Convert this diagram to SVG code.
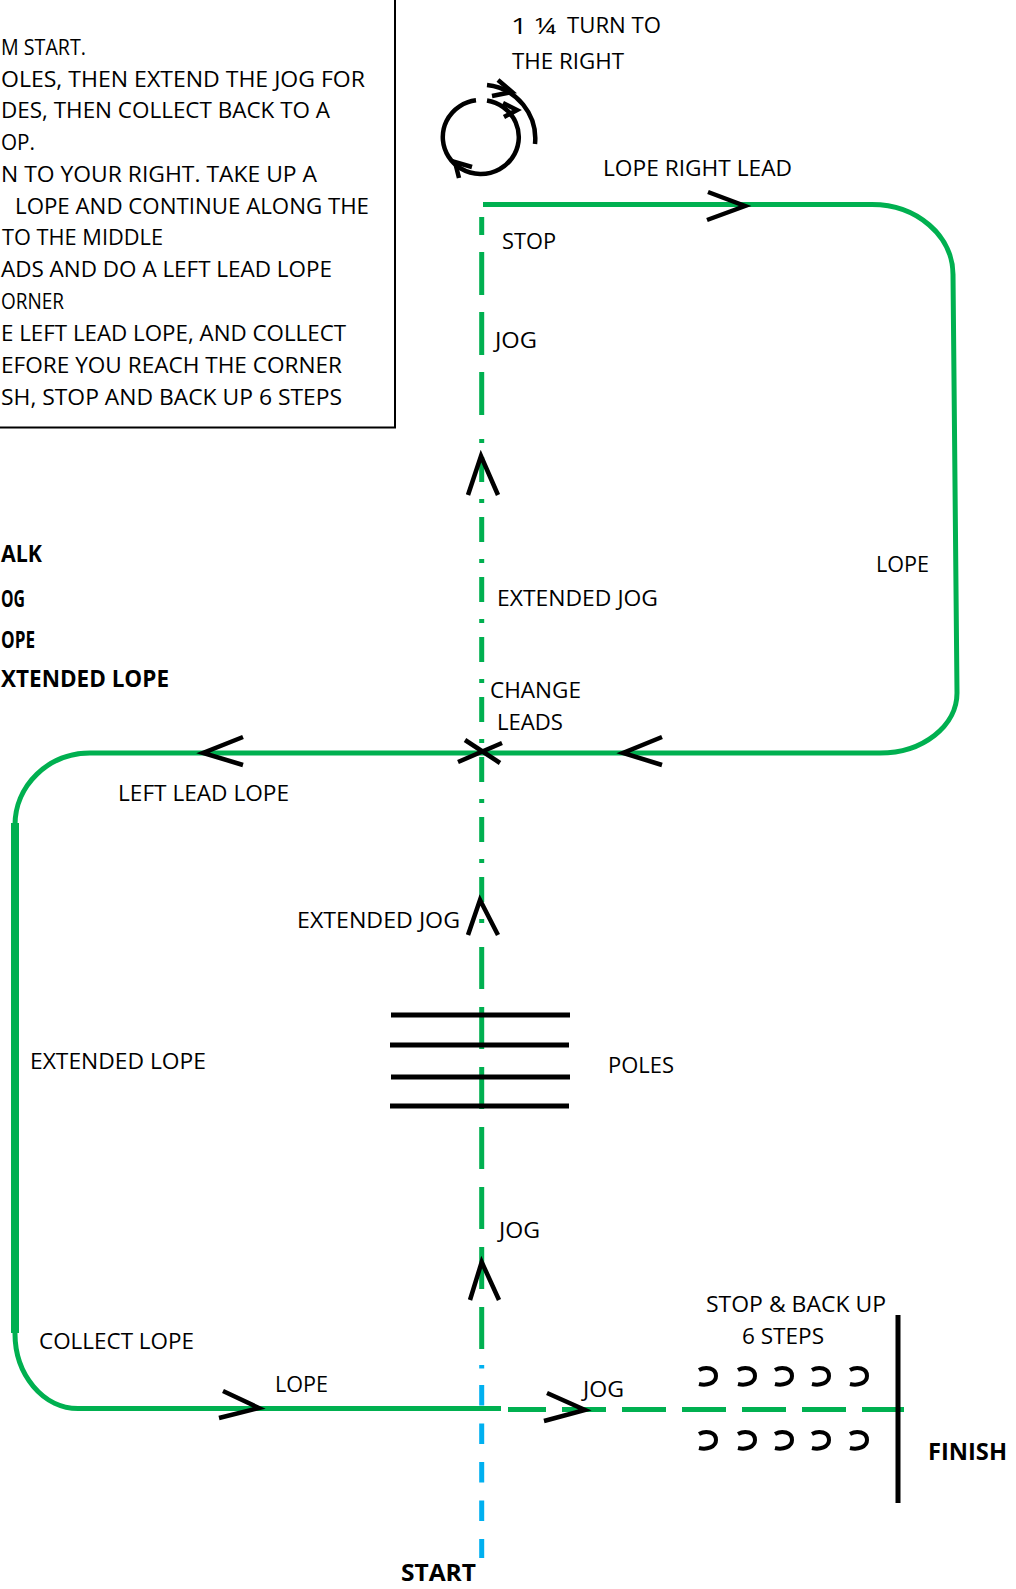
<svg xmlns="http://www.w3.org/2000/svg" width="1016" height="1589" viewBox="0 0 1016 1589">
<style>
text { font-family: "Open Sans", "Liberation Sans", sans-serif; font-size: 22.6px; fill: #000; }
.b { font-weight: 700; font-size: 23px; }
.g { fill: none; stroke: #00B050; stroke-width: 5; }
.gt { fill: none; stroke: #00B050; stroke-width: 8; }
.bl { fill: none; stroke: #00B0F0; stroke-width: 5; }
.k { fill: none; stroke: #000; stroke-width: 4.5; }
.pole { stroke: #000; stroke-width: 5; }
</style>
<defs>
<path id="step" d="M0,-6 C7,-10 17,-8 17,0 C17,7 8,10 0,8" fill="none" stroke="#000" stroke-width="4"/>
</defs>
<rect width="1016" height="1589" fill="#fff"/>

<g id="instructions">
<rect x="-10" y="-10" width="405" height="437.5" fill="#fff" stroke="#000" stroke-width="2"/>
<text x="1" y="55" textLength="85" lengthAdjust="spacingAndGlyphs">M START.</text>
<text x="1" y="86.7" textLength="364" lengthAdjust="spacingAndGlyphs">OLES, THEN EXTEND THE JOG FOR</text>
<text x="1" y="118.4" textLength="329" lengthAdjust="spacingAndGlyphs">DES, THEN COLLECT BACK TO A</text>
<text x="1" y="150.1" textLength="34" lengthAdjust="spacingAndGlyphs">OP.</text>
<text x="1" y="181.8" textLength="316" lengthAdjust="spacingAndGlyphs">N TO YOUR RIGHT. TAKE UP A</text>
<text x="15" y="213.5" textLength="354" lengthAdjust="spacingAndGlyphs">LOPE AND CONTINUE ALONG THE</text>
<text x="2" y="245.2" textLength="161" lengthAdjust="spacingAndGlyphs">TO THE MIDDLE</text>
<text x="1" y="277.2" textLength="331" lengthAdjust="spacingAndGlyphs">ADS AND DO A LEFT LEAD LOPE</text>
<text x="1" y="309.3" textLength="63" lengthAdjust="spacingAndGlyphs">ORNER</text>
<text x="1" y="341.3" textLength="345" lengthAdjust="spacingAndGlyphs">E LEFT LEAD LOPE, AND COLLECT</text>
<text x="1" y="373.2" textLength="341" lengthAdjust="spacingAndGlyphs">EFORE YOU REACH THE CORNER</text>
<text x="1" y="405" textLength="341" lengthAdjust="spacingAndGlyphs">SH, STOP AND BACK UP 6 STEPS</text>
</g>

<g id="legend">
<text class="b" x="1" y="562" textLength="41" lengthAdjust="spacingAndGlyphs">ALK</text>
<text class="b" x="1" y="607" textLength="24" lengthAdjust="spacingAndGlyphs">OG</text>
<text class="b" x="1" y="648" textLength="34" lengthAdjust="spacingAndGlyphs">OPE</text>
<text class="b" x="1" y="687" textLength="168" lengthAdjust="spacingAndGlyphs">XTENDED LOPE</text>
</g>

<g id="connectors">
<path class="g" d="M483,204.5 H872 A81,70 0 0 1 953,274.5 L957,693 A77,60 0 0 1 880,753 H90 A75,72 0 0 0 15,825"/>
<line class="gt" x1="15" y1="823" x2="15" y2="1333"/>
<path class="g" d="M15,1333 A63,75 0 0 0 78,1408.5 H501"/>
<line class="g" x1="481.7" y1="217" x2="481.7" y2="430" stroke-dasharray="43 17" stroke-dashoffset="25"/>
<line class="g" x1="481.7" y1="439" x2="481.7" y2="925" stroke-dasharray="4 14 25 17"/>
<line class="g" x1="481.7" y1="947" x2="481.7" y2="1349" stroke-dasharray="42 18"/>
<line class="bl" x1="481.7" y1="1365" x2="481.7" y2="1368.5"/>
<line class="bl" x1="481.7" y1="1385" x2="481.7" y2="1558" stroke-dasharray="20.5 18"/>
<line class="g" x1="508" y1="1409.5" x2="904" y2="1409.5" stroke-dasharray="44 16" stroke-dashoffset="6"/>
<polyline class="k" points="708,192 745,206 707,220"/>
<polyline class="k" points="468,495 481,456 498,495"/>
<polyline class="k" points="662,737 623,753 662,765"/>
<line class="k" x1="458" y1="762" x2="502" y2="743"/>
<line class="k" x1="465" y1="740" x2="500" y2="763"/>
<polyline class="k" points="243,737 203,753 243,765"/>
<polyline class="k" points="468,935 480,900 498,935"/>
<polyline class="k" points="470,1300 481.7,1262 499,1300"/>
<polyline class="k" points="223,1391 259,1408 219,1418"/>
<polyline class="k" points="547,1393 585,1410 544,1421"/>
</g>

<g id="turn">
<path class="k" d="M487,100.5 A38,37 0 1 1 476,100.3" stroke-width="5"/>
<polyline class="k" points="472,167 455,162 459,178"/>
<polyline class="k" points="503,103 517,110 504,117"/>
<path class="k" d="M487,85 A54,54 0 0 1 535,144" stroke-width="5"/>
<polyline class="k" points="498,80 512,92 492,96"/>
<text x="511" y="34" font-size="25" textLength="45" lengthAdjust="spacingAndGlyphs">1 ¼</text>
<text x="567" y="33" font-size="18.5" textLength="94" lengthAdjust="spacingAndGlyphs">TURN TO</text>
<text x="512" y="69" textLength="112" lengthAdjust="spacingAndGlyphs">THE RIGHT</text>
</g>

<g id="poles">
<line class="pole" x1="391" y1="1015" x2="570" y2="1015"/>
<line class="pole" x1="390" y1="1045" x2="569" y2="1045"/>
<line class="pole" x1="391" y1="1077" x2="570" y2="1077"/>
<line class="pole" x1="390" y1="1106" x2="569" y2="1106"/>
<text x="608" y="1073" textLength="66" lengthAdjust="spacingAndGlyphs">POLES</text>
</g>

<g id="finish">
<line class="pole" x1="898" y1="1315" x2="898" y2="1503"/>
<text class="b" x="928" y="1460" textLength="79" lengthAdjust="spacingAndGlyphs">FINISH</text>
</g>

<g id="backup">
<use href="#step" x="699" y="1376"/>
<use href="#step" x="738" y="1376"/>
<use href="#step" x="775" y="1376"/>
<use href="#step" x="812" y="1376"/>
<use href="#step" x="850" y="1376"/>
<use href="#step" x="699" y="1440"/>
<use href="#step" x="738" y="1440"/>
<use href="#step" x="775" y="1440"/>
<use href="#step" x="812" y="1440"/>
<use href="#step" x="850" y="1440"/>
<text x="706" y="1312" textLength="180" lengthAdjust="spacingAndGlyphs">STOP &amp; BACK UP</text>
<text x="742" y="1344" textLength="82" lengthAdjust="spacingAndGlyphs">6 STEPS</text>
</g>

<g id="labels">
<text x="603" y="176" textLength="189" lengthAdjust="spacingAndGlyphs">LOPE RIGHT LEAD</text>
<text x="502" y="249" textLength="54" lengthAdjust="spacingAndGlyphs">STOP</text>
<text x="495" y="348" textLength="42" lengthAdjust="spacingAndGlyphs">JOG</text>
<text x="497" y="606" textLength="161" lengthAdjust="spacingAndGlyphs">EXTENDED JOG</text>
<text x="876" y="572" textLength="53" lengthAdjust="spacingAndGlyphs">LOPE</text>
<text x="490" y="698" textLength="91" lengthAdjust="spacingAndGlyphs">CHANGE</text>
<text x="497" y="730" textLength="66" lengthAdjust="spacingAndGlyphs">LEADS</text>
<text x="118" y="801" textLength="171" lengthAdjust="spacingAndGlyphs">LEFT LEAD LOPE</text>
<text x="297" y="928" textLength="163" lengthAdjust="spacingAndGlyphs">EXTENDED JOG</text>
<text x="30" y="1069" textLength="176" lengthAdjust="spacingAndGlyphs">EXTENDED LOPE</text>
<text x="499" y="1238" textLength="41" lengthAdjust="spacingAndGlyphs">JOG</text>
<text x="39" y="1349" textLength="155" lengthAdjust="spacingAndGlyphs">COLLECT LOPE</text>
<text x="275" y="1392" textLength="53" lengthAdjust="spacingAndGlyphs">LOPE</text>
<text x="583" y="1397" textLength="41" lengthAdjust="spacingAndGlyphs">JOG</text>
<text class="b" x="401" y="1581" textLength="75" lengthAdjust="spacingAndGlyphs">START</text>
</g>
</svg>
